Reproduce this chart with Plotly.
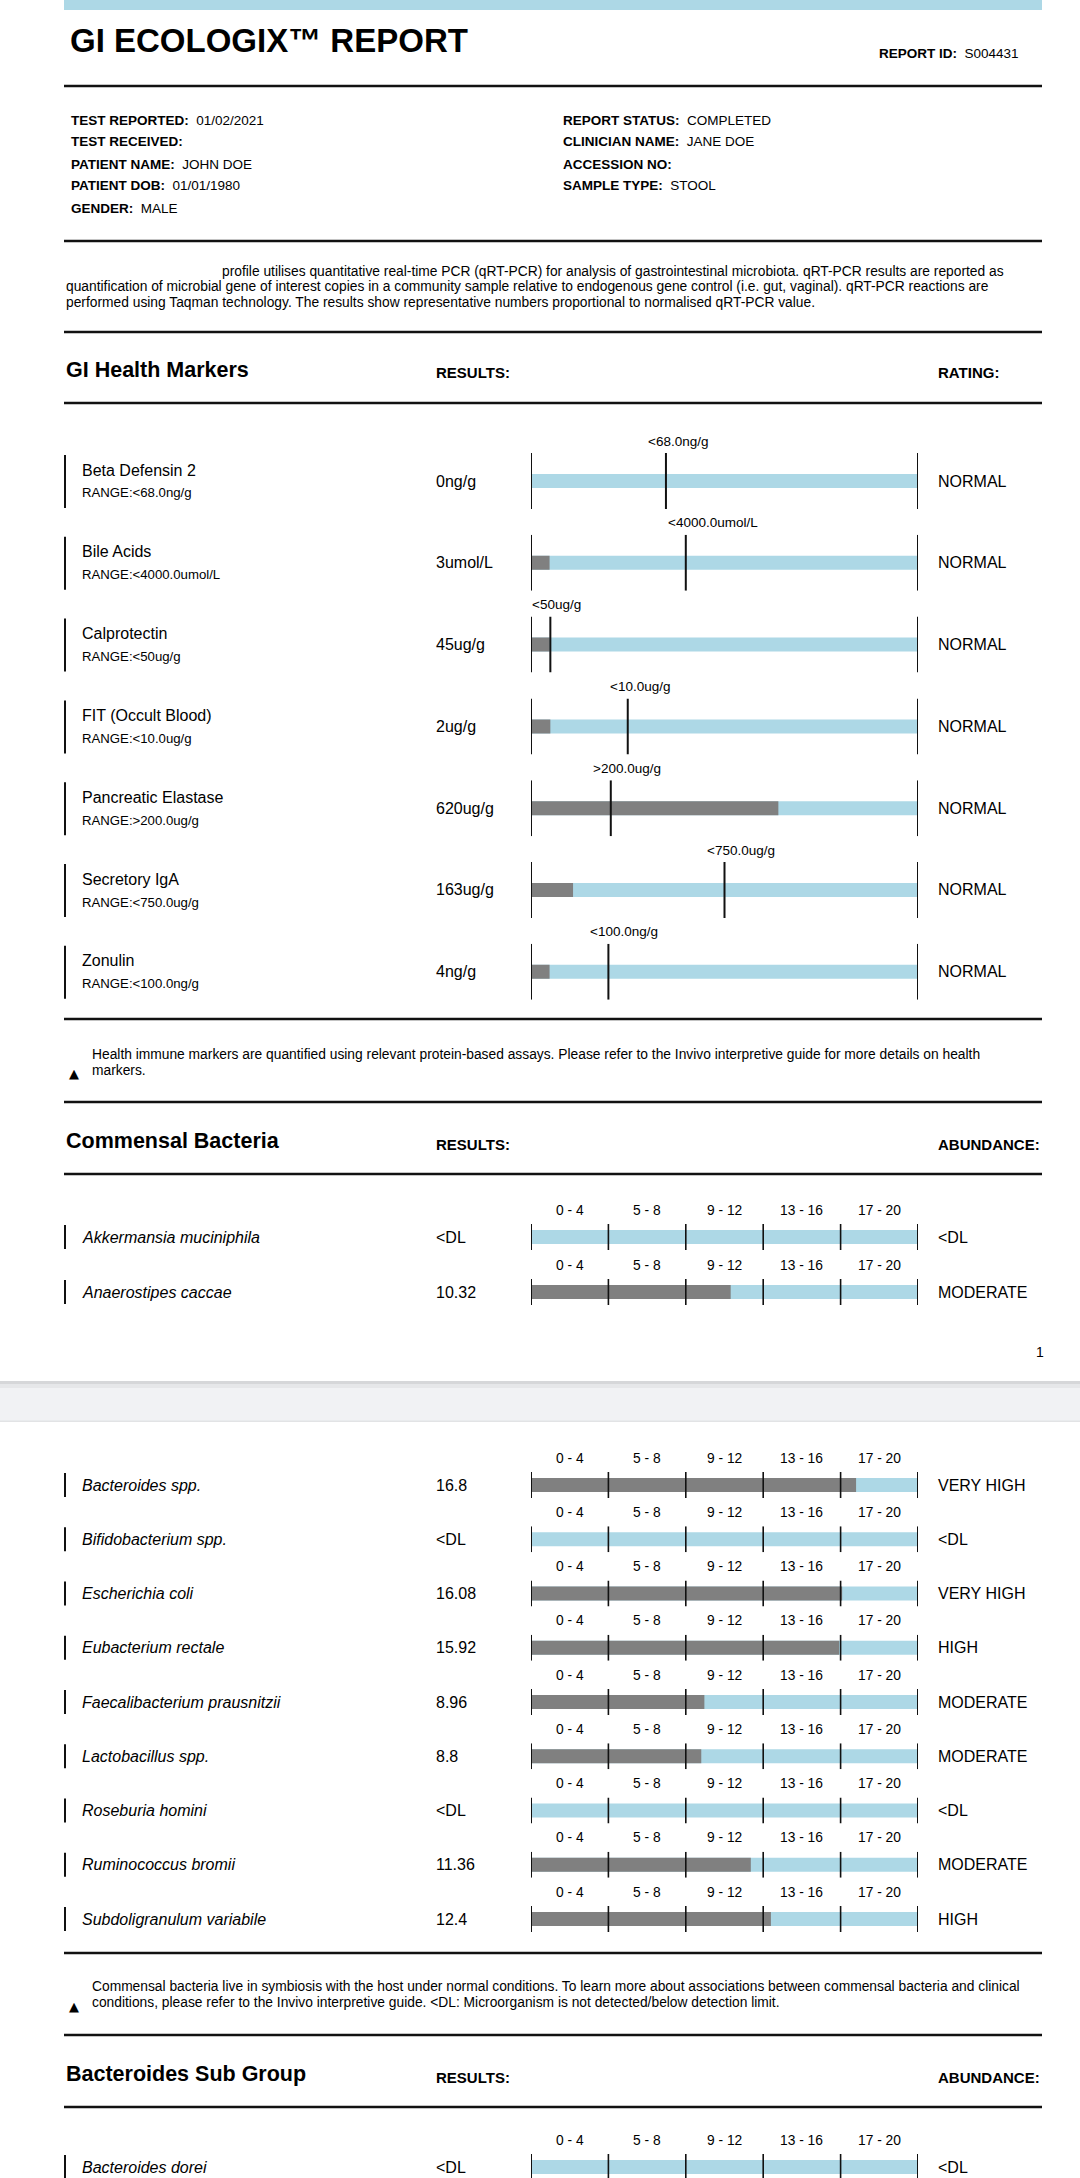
import plotly.graph_objects as go

W, H = 1080, 2178
FONT = "Liberation Sans, Arial, sans-serif"
BLUE = "#add8e6"
GRAY = "#808080"
INK = "#000000"

# ---------------- data ----------------
title_text = "GI ECOLOGIX™ REPORT"
report_id = "S004431"
info_left = [("TEST REPORTED:", "01/02/2021"), ("TEST RECEIVED:", ""), ("PATIENT NAME:", "JOHN DOE"),
             ("PATIENT DOB:", "01/01/1980"), ("GENDER:", "MALE")]
info_right = [("REPORT STATUS:", "COMPLETED"), ("CLINICIAN NAME:", "JANE DOE"), ("ACCESSION NO:", ""),
              ("SAMPLE TYPE:", "STOOL")]
desc_lines = [
    "profile utilises quantitative real-time PCR (qRT-PCR) for analysis of gastrointestinal microbiota. qRT-PCR results are reported as",
    "quantification of microbial gene of interest copies in a community sample relative to endogenous gene control (i.e. gut, vaginal). qRT-PCR reactions are",
    "performed using Taqman technology. The results show representative numbers proportional to normalised qRT-PCR value.",
]

gi_names = ["Beta Defensin 2", "Bile Acids", "Calprotectin", "FIT (Occult Blood)", "Pancreatic Elastase",
            "Secretory IgA", "Zonulin"]
gi_ranges = ["<68.0ng/g", "<4000.0umol/L", "<50ug/g", "<10.0ug/g", ">200.0ug/g", "<750.0ug/g", "<100.0ng/g"]
gi_thresholds = [68, 4000, 50, 10, 200, 750, 100]
gi_values = [0, 3, 45, 2, 620, 163, 4]
gi_units = ["ng/g", "umol/L", "ug/g", "ug/g", "ug/g", "ug/g", "ng/g"]
gi_scale_max = [195, 10000, 1000, 40, 970, 1500, 500]
gi_ratings = ["NORMAL", "NORMAL", "NORMAL", "NORMAL", "NORMAL", "NORMAL", "NORMAL"]

abundance_bins = ["0 - 4", "5 - 8", "9 - 12", "13 - 16", "17 - 20"]
abundance_edges = [0, 4, 8, 12, 16, 20]

comm1_names = ["Akkermansia muciniphila", "Anaerostipes caccae"]
comm1_values = [None, 10.32]
comm1_ratings = ["<DL", "MODERATE"]

comm2_names = ["Bacteroides spp.", "Bifidobacterium spp.", "Escherichia coli", "Eubacterium rectale",
               "Faecalibacterium prausnitzii", "Lactobacillus spp.", "Roseburia homini", "Ruminococcus bromii",
               "Subdoligranulum variabile"]
comm2_values = [16.8, None, 16.08, 15.92, 8.96, 8.8, None, 11.36, 12.4]
comm2_ratings = ["VERY HIGH", "<DL", "VERY HIGH", "HIGH", "MODERATE", "MODERATE", "<DL", "MODERATE", "HIGH"]

sub_names = ["Bacteroides dorei"]
sub_values = [None]
sub_ratings = ["<DL"]

gi_note = ["Health immune markers are quantified using relevant protein-based assays. Please refer to the Invivo interpretive guide for more details on health",
           "markers."]
comm_note = ["Commensal bacteria live in symbiosis with the host under normal conditions. To learn more about associations between commensal bacteria and clinical",
             "conditions, please refer to the Invivo interpretive guide. <DL: Microorganism is not detected/below detection limit."]

# ---------------- layout helpers ----------------
X_L, X_R = 64, 1042          # rule extent
BAR_X0, BAR_X1 = 531, 918     # bar extent
NAME_X, VAL_X, RATE_X = 80, 434, 936

annotations, shapes, traces = [], [], []
axes = {}


def esc(s):
    return s.replace("&", "&amp;").replace("<", "&lt;").replace(">", "&gt;")


def px(x):
    return x / W


def py(y):
    return 1 - y / H


def text(x, y, s, size, anchor="left", color=INK, family=FONT):
    annotations.append(dict(x=px(x), y=py(y), xref="paper", yref="paper",
                            text=s, showarrow=False, xanchor=anchor, yanchor="middle",
                            font=dict(family=family, size=size, color=color)))


def hrule(y, w=2.5):
    shapes.append(dict(type="line", xref="paper", yref="paper", x0=px(X_L), x1=px(X_R), y0=py(y), y1=py(y),
                       line=dict(color="#111111", width=w)))


def vmark(x, y0, y1, w=2):
    shapes.append(dict(type="line", xref="paper", yref="paper", x0=px(x), x1=px(x), y0=py(y0), y1=py(y1),
                       line=dict(color="#111111", width=w)))


def add_row(center, half, xmax):
    idx = len(axes) // 2 + 1
    sfx = "" if idx == 1 else str(idx)
    xa, ya = "x" + sfx, "y" + sfx
    top = center - half
    bot = min(center + half, H)
    axes["xaxis" + sfx] = dict(domain=[px(BAR_X0), px(BAR_X1)], range=[0, xmax], anchor=ya,
                               visible=False, fixedrange=True)
    axes["yaxis" + sfx] = dict(domain=[py(bot), py(top)], range=[(center - bot) / half, 1], anchor=xa,
                               visible=False, fixedrange=True)
    return xa, ya


def bar(xa, ya, val, color, width):
    traces.append(go.Bar(x=[val], y=[0], base=0, orientation="h", width=[width],
                         marker=dict(color=color, line=dict(width=0)), xaxis=xa, yaxis=ya,
                         hoverinfo="skip", showlegend=False))


def tick(xa, ya, xv, w=2):
    shapes.append(dict(type="line", xref=xa, yref=ya, x0=xv, x1=xv, y0=-1, y1=1,
                       line=dict(color="#111111", width=w)))


# ---------------- header ----------------
shapes.append(dict(type="rect", xref="paper", yref="paper", x0=px(X_L), x1=px(X_R), y0=py(10), y1=py(0),
                   fillcolor=BLUE, line=dict(width=0)))
text(68, 41, "<b>" + title_text + "</b>", 33)
text(1021, 53, "<b>REPORT ID:</b>\u00a0\u00a0" + report_id, 13.5, anchor="right")
hrule(86)
info_y = [120, 142, 164, 186, 208]
for (k, v), y in zip(info_left, info_y):
    text(69, y, "<b>" + k + "</b>\u00a0\u00a0" + v, 13.5)
for (k, v), y in zip(info_right, info_y):
    text(561, y, "<b>" + k + "</b>\u00a0\u00a0" + v, 13.5)
hrule(241)
for s, x, y in zip(desc_lines, [220, 64, 64], [272, 287, 302]):
    text(x, y, esc(s), 13.8)
hrule(332)


def section_header(y, title, right):
    text(64, y, "<b>" + title + "</b>", 21.5)
    text(VAL_X, y + 3, "<b>RESULTS:</b>", 15)
    text(RATE_X, y + 3, "<b>" + right + "</b>", 15)


section_header(370, "GI Health Markers", "RATING:")
hrule(403)

# ---------------- GI health marker rows ----------------
GI_C0, GI_PITCH = 481, 81.8
for i in range(len(gi_names)):
    c = GI_C0 + GI_PITCH * i
    half = 28
    xa, ya = add_row(c, half, gi_scale_max[i])
    bw = 14 / half
    bar(xa, ya, gi_scale_max[i], BLUE, bw)
    if gi_values[i] > 0:
        bar(xa, ya, max(gi_values[i], 0.048 * gi_scale_max[i]), GRAY, bw)
    for xv in (0, gi_thresholds[i], gi_scale_max[i]):
        tick(xa, ya, xv)
    annotations.append(dict(x=gi_thresholds[i], y=py(c - 40), xref=xa, yref="paper", text=esc(gi_ranges[i]),
                            showarrow=False, xanchor="left", yanchor="middle", xshift=-20,
                            font=dict(family=FONT, size=13.5, color=INK)))
    vmark(65, c - 26, c + 27)
    text(NAME_X, c - 11, esc(gi_names[i]), 16)
    text(NAME_X, c + 12, "RANGE:" + esc(gi_ranges[i]), 13.2)
    text(VAL_X, c, "%g%s" % (gi_values[i], gi_units[i]), 16)
    text(RATE_X, c, gi_ratings[i], 16)

hrule(1019)
text(74, 1073, "▲", 13, anchor="center", family="DejaVu Sans")
for s, y in zip(gi_note, [1054, 1070]):
    text(90, y, esc(s), 13.8)
hrule(1102)
section_header(1141, "Commensal Bacteria", "ABUNDANCE:")
hrule(1174)


def abundance_rows(names, values, ratings, centers):
    for name, v, r, c in zip(names, values, ratings, centers):
        half = 13
        xa, ya = add_row(c, half, abundance_edges[-1])
        bw = 14 / half
        bar(xa, ya, abundance_edges[-1], BLUE, bw)
        if v is not None:
            bar(xa, ya, v, GRAY, bw)
        for j, e in enumerate(abundance_edges):
            tick(xa, ya, e, 2 if j in (0, len(abundance_edges) - 1) else 1.6)
        for j, lab in enumerate(abundance_bins):
            mid = (abundance_edges[j] + abundance_edges[j + 1]) / 2
            annotations.append(dict(x=mid, y=py(c - 27), xref=xa, yref="paper", text=lab, showarrow=False,
                                    xanchor="center", yanchor="middle",
                                    font=dict(family=FONT, size=13.8, color=INK)))
        vmark(65, c - 12, c + 12)
        text(NAME_X, c, "<i>" + esc(name) + "</i>", 16)
        text(VAL_X, c, "&lt;DL" if v is None else str(v), 16)
        text(RATE_X, c, esc(r), 16)


abundance_rows(comm1_names, comm1_values, comm1_ratings, [1237, 1292])
text(1046, 1352, "1", 14, anchor="right")

# page break band
shapes.append(dict(type="rect", xref="paper", yref="paper", x0=0, x1=1, y0=py(1422), y1=py(1381),
                   fillcolor="#f1f2f4", line=dict(width=0)))
shapes.append(dict(type="rect", xref="paper", yref="paper", x0=0, x1=1, y0=py(1384), y1=py(1381),
                   fillcolor="#d6d7d9", line=dict(width=0)))
shapes.append(dict(type="rect", xref="paper", yref="paper", x0=0, x1=1, y0=py(1388), y1=py(1384),
                   fillcolor="#e6e7e9", line=dict(width=0)))
shapes.append(dict(type="rect", xref="paper", yref="paper", x0=0, x1=1, y0=py(1422), y1=py(1420.5),
                   fillcolor="#e2e3e5", line=dict(width=0)))

abundance_rows(comm2_names, comm2_values, comm2_ratings, [1485 + 54.25 * i for i in range(len(comm2_names))])
hrule(1953)
text(74, 2006, "▲", 13, anchor="center", family="DejaVu Sans")
for s, y in zip(comm_note, [1986, 2002]):
    text(90, y, esc(s), 13.8)
hrule(2035)
section_header(2074, "Bacteroides Sub Group", "ABUNDANCE:")
hrule(2107)
abundance_rows(sub_names, sub_values, sub_ratings, [2167])

fig = go.Figure(data=traces)
fig.update_layout(width=W, height=H, autosize=False, margin=dict(l=0, r=0, t=0, b=0, pad=0),
                  paper_bgcolor="white", plot_bgcolor="rgba(0,0,0,0)", barmode="overlay",
                  showlegend=False, shapes=shapes, annotations=annotations, **axes)
fig.write_html("out.html", config={"displayModeBar": False, "staticPlot": True},
               post_script="document.body.style.margin='0';document.body.style.padding='0';")
